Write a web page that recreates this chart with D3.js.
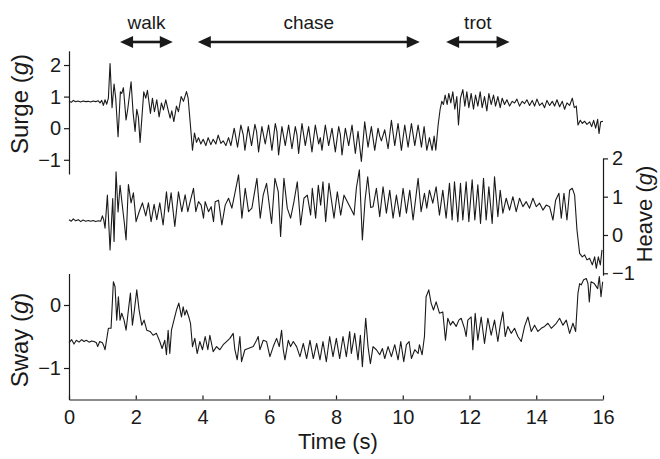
<!DOCTYPE html>
<html>
<head>
<meta charset="utf-8">
<script src="https://cdn.jsdelivr.net/npm/d3@7"></script>
<style>
  body { margin: 0; background: #fff; }
  text { font-family: "Liberation Sans", Arial, sans-serif; fill: #1a1a1a; }
</style>
</head>
<body>
<svg id="chart" width="660" height="459"></svg>
<script>
// time (s), acceleration (g)
var surge = [
  [0,0.85],[0.07,0.82],[0.13,0.88],[0.2,0.84],[0.27,0.86],[0.35,0.83],[0.42,0.86],[0.5,0.84],[0.58,0.85],[0.65,0.83],
  [0.72,0.86],[0.8,0.84],[0.87,0.87],[0.93,0.8],[0.98,0.88],[1.03,0.72],[1.08,0.9],[1.13,0.76],[1.18,0.95],
  [1.23,2.05],[1.29,0.65],[1.35,1.4],[1.4,0.95],[1.47,-0.27],[1.54,1.15],[1.58,1.1],[1.63,1.28],[1.71,0.26],[1.76,0.6],
  [1.86,1.47],[1.92,0.5],[1.98,-0.1],[2.03,0.6],[2.08,0.35],[2.13,-0.45],[2.24,1.15],[2.3,0.95],[2.35,1.2],[2.44,0.47],
  [2.5,0.95],[2.56,0.52],[2.63,0.9],[2.7,0.36],[2.77,0.8],[2.83,0.58],[2.9,0.9],[2.96,0.62],[3.03,0.32],[3.08,0.55],
  [3.14,0.21],[3.22,0.7],[3.28,0.52],[3.36,1.0],[3.43,0.85],[3.52,1.16],[3.57,0.95],[3.63,0.2],[3.7,-0.7],
  [3.76,-0.15],[3.82,-0.45],[3.88,-0.3],[3.95,-0.5],[4.02,-0.35],[4.1,-0.55],[4.17,-0.3],[4.25,-0.52],[4.32,-0.35],
  [4.4,-0.5],[4.47,-0.22],[4.55,-0.48],[4.62,-0.4],[4.7,-0.55],[4.78,-0.3],[4.85,-0.55],[4.95,0.0],[5.05,-0.6],
  [5.15,0.1],[5.22,-0.2],[5.27,-0.7],[5.37,0.05],[5.47,-0.55],[5.57,0.12],[5.62,-0.1],[5.68,-0.75],[5.78,0.05],
  [5.88,-0.5],[5.98,0.1],[6.08,-0.7],[6.18,0.15],[6.23,-0.1],[6.28,-0.85],[6.38,0.05],[6.48,-0.55],[6.58,0.1],
  [6.68,-0.65],[6.78,0.05],[6.83,-0.2],[6.88,-0.8],[6.98,0.15],[7.08,-0.55],[7.18,0.05],[7.28,-0.75],[7.38,0.1],
  [7.48,-0.5],[7.53,-0.3],[7.58,-0.7],[7.68,0.1],[7.78,-0.55],[7.88,0.0],[7.98,-0.75],[8.08,0.05],[8.13,-0.2],
  [8.18,-0.85],[8.28,0.0],[8.38,-0.55],[8.48,0.1],[8.58,-0.8],[8.66,-0.1],[8.76,-1.05],[8.86,0.2],[8.96,-0.6],
  [9.06,0.05],[9.16,-0.7],[9.26,0.0],[9.31,-0.25],[9.36,-0.4],[9.46,-0.05],[9.56,-0.65],[9.66,0.25],[9.76,-0.55],
  [9.86,0.15],[9.96,-0.7],[10.06,0.1],[10.16,-0.6],[10.26,0.15],[10.36,-0.55],[10.46,0.1],[10.56,-0.6],[10.64,0.05],
  [10.72,-0.7],[10.8,-0.3],[10.88,-0.7],[10.94,-0.25],[10.99,-0.7],[11.06,0.1],[11.12,0.6],[11.17,0.85],[11.22,0.75],[11.27,1.05],
  [11.33,0.75],[11.38,1.1],[11.44,0.8],[11.5,1.15],[11.56,0.6],[11.62,1.0],[11.67,0.1],[11.73,0.95],[11.8,1.22],
  [11.86,0.7],[11.92,1.15],[11.98,0.65],[12.05,1.1],[12.12,0.6],[12.18,1.05],[12.25,0.7],[12.32,1.15],[12.38,0.65],
  [12.45,1.0],[12.52,0.55],[12.58,1.1],[12.65,0.75],[12.72,1.05],[12.78,0.7],[12.85,1.0],[12.92,0.65],[12.98,0.95],
  [13.05,0.75],[13.12,0.9],[13.2,0.7],[13.28,0.85],[13.35,0.8],[13.42,0.92],[13.5,0.7],[13.58,0.85],[13.65,0.78],
  [13.72,0.9],[13.8,0.72],[13.88,0.88],[13.95,0.7],[14.02,0.92],[14.1,0.72],[14.18,0.8],[14.25,0.65],[14.32,0.88],
  [14.4,0.72],[14.48,0.85],[14.55,0.7],[14.62,0.9],[14.7,0.68],[14.78,0.85],[14.85,0.6],[14.92,0.8],[15.0,0.72],
  [15.08,0.95],[15.14,0.65],[15.2,0.7],[15.25,0.1],[15.32,0.25],[15.38,0.15],[15.45,0.22],[15.52,0.12],[15.6,0.2],
  [15.66,0.05],[15.72,0.25],[15.78,0.0],[15.84,0.28],[15.88,-0.17],[15.93,0.2],[16.0,0.22]
];

var heave = [
  [0,0.4],[0.07,0.36],[0.13,0.42],[0.2,0.37],[0.28,0.4],[0.35,0.35],[0.42,0.39],[0.5,0.36],[0.58,0.38],[0.65,0.36],
  [0.72,0.38],[0.8,0.35],[0.88,0.37],[0.95,0.36],[1.0,0.5],[1.04,0.4],
  [1.08,0.18],[1.15,1.04],[1.23,-0.39],[1.31,0.95],[1.35,-0.17],[1.41,1.65],[1.47,0.6],[1.53,1.3],[1.6,0.75],
  [1.66,0.3],[1.71,-0.13],[1.78,1.32],[1.86,0.84],[1.93,1.1],[2.01,0.35],[2.1,0.6],[2.2,0.84],[2.3,0.5],[2.38,0.84],
  [2.46,0.35],[2.55,0.8],[2.63,0.4],[2.72,0.84],[2.82,0.26],[2.92,1.13],[2.98,0.6],[3.06,1.1],[3.17,0.22],[3.28,1.13],
  [3.38,0.61],[3.48,1.05],[3.56,0.61],[3.63,0.87],[3.73,1.22],[3.8,0.61],[3.88,0.87],[3.96,0.78],[4.03,0.44],
  [4.08,0.87],[4.18,0.61],[4.26,0.74],[4.33,0.35],[4.38,0.87],[4.48,0.91],[4.58,0.26],[4.68,0.78],[4.78,0.96],
  [4.88,0.7],[4.98,1.13],[5.08,1.57],[5.18,0.44],[5.28,1.22],[5.38,0.61],[5.48,0.7],[5.63,1.48],[5.73,0.44],
  [5.82,1.05],[5.92,1.35],[6.07,0.3],[6.17,1.48],[6.27,1.13],[6.34,-0.04],[6.44,1.48],[6.54,0.7],[6.64,0.44],
  [6.74,0.87],[6.84,1.39],[6.94,0.26],[7.04,0.96],[7.14,1.04],[7.24,0.52],[7.29,1.22],[7.39,0.44],[7.47,1.3],
  [7.54,0.78],[7.61,1.39],[7.69,0.35],[7.79,1.35],[7.87,0.87],[7.94,0.44],[8.04,1.13],[8.14,0.52],[8.24,1.04],
  [8.34,0.87],[8.44,0.7],[8.54,0.52],[8.61,1.22],[8.7,1.7],[8.79,-0.13],[8.87,0.9],[8.95,1.52],[9.04,0.72],
  [9.11,0.74],[9.21,1.22],[9.31,0.48],[9.41,1.26],[9.51,0.57],[9.61,1.17],[9.71,0.44],[9.81,1.04],[9.91,0.48],
  [10.01,1.22],[10.11,0.57],[10.21,1.17],[10.31,0.39],[10.46,1.48],[10.55,0.61],[10.65,1.09],[10.72,0.7],[10.8,1.17],
  [10.9,0.83],[11.0,1.26],[11.1,0.52],[11.2,1.17],[11.3,0.44],[11.4,1.35],[11.48,0.39],[11.55,1.39],[11.65,0.35],
  [11.73,1.35],[11.8,0.39],[11.9,1.39],[11.98,0.35],[12.08,1.44],[12.16,0.39],[12.25,1.31],[12.33,0.3],[12.42,1.48],
  [12.5,0.39],[12.58,1.26],[12.68,0.3],[12.75,1.52],[12.85,0.48],[12.92,1.17],[13.0,0.57],[13.1,0.96],[13.2,0.65],
  [13.3,1.0],[13.4,0.61],[13.5,0.96],[13.6,0.74],[13.7,0.87],[13.8,0.7],[13.9,0.96],[14.0,0.74],[14.1,0.83],
  [14.2,0.65],[14.3,0.78],[14.4,0.74],[14.5,0.39],[14.58,0.91],[14.68,1.09],[14.75,0.44],[14.83,1.09],[14.92,0.39],
  [15.0,1.17],[15.08,1.22],[15.15,1.04],[15.22,0.13],[15.3,-0.48],[15.38,-0.57],[15.45,-0.52],[15.52,-0.65],
  [15.6,-0.61],[15.68,-0.78],[15.75,-0.57],[15.8,-0.87],[15.86,-0.57],[15.92,-0.78],[15.97,-0.39]
];

var sway = [
  [0,-0.6],[0.08,-0.55],[0.15,-0.62],[0.22,-0.56],[0.3,-0.59],[0.38,-0.55],[0.45,-0.58],[0.52,-0.56],[0.6,-0.59],
  [0.68,-0.57],[0.75,-0.58],[0.82,-0.6],[0.86,-0.66],[0.92,-0.58],[1.0,-0.6],[1.05,-0.66],[1.08,-0.71],
  [1.18,-0.37],[1.26,-0.37],[1.33,0.37],[1.38,0.29],[1.43,-0.24],[1.48,0.13],[1.53,-0.24],[1.58,-0.13],[1.65,-0.24],
  [1.71,-0.4],[1.78,-0.08],[1.84,0.19],[1.9,-0.32],[1.96,-0.08],[2.03,0.24],[2.1,-0.08],[2.18,-0.32],[2.25,-0.24],
  [2.33,-0.4],[2.43,-0.42],[2.52,-0.48],[2.62,-0.45],[2.72,-0.58],[2.79,-0.69],[2.87,-0.56],[2.92,-0.79],[2.97,-0.4],
  [3.02,-0.77],[3.07,-0.4],[3.12,-0.29],[3.22,-0.08],[3.29,0.03],[3.37,-0.19],[3.42,-0.03],[3.47,-0.16],[3.52,-0.08],
  [3.59,-0.19],[3.64,-0.29],[3.7,-0.66],[3.77,-0.53],[3.84,-0.77],[3.92,-0.58],[4.0,-0.71],[4.08,-0.5],[4.16,-0.71],
  [4.22,-0.48],[4.32,-0.74],[4.42,-0.66],[4.52,-0.71],[4.62,-0.63],[4.72,-0.58],[4.82,-0.53],[4.92,-0.45],[4.97,-0.71],
  [5.04,-0.87],[5.12,-0.5],[5.17,-0.9],[5.27,-0.71],[5.37,-0.69],[5.52,-0.66],[5.62,-0.56],[5.67,-0.5],[5.72,-0.71],
  [5.82,-0.56],[5.92,-0.58],[6.02,-0.82],[6.12,-0.66],[6.22,-0.53],[6.3,-0.66],[6.37,-0.4],[6.42,-0.71],[6.47,-0.87],
  [6.57,-0.56],[6.64,-0.66],[6.72,-0.58],[6.82,-0.66],[6.92,-0.82],[7.02,-0.61],[7.12,-0.85],[7.22,-0.56],[7.32,-0.85],
  [7.42,-0.61],[7.52,-0.87],[7.61,-0.58],[7.71,-0.9],[7.81,-0.5],[7.91,-0.82],[8.01,-0.53],[8.11,-0.85],[8.21,-0.5],
  [8.31,-0.82],[8.41,-0.42],[8.46,-0.77],[8.56,-0.45],[8.66,-0.87],[8.73,-0.48],[8.79,-0.98],[8.89,-0.21],[8.96,-0.66],
  [9.03,-0.93],[9.11,-0.66],[9.21,-0.71],[9.31,-0.79],[9.39,-0.69],[9.46,-0.85],[9.56,-0.66],[9.66,-0.82],[9.76,-0.63],
  [9.86,-0.87],[9.94,-0.58],[10.03,-0.9],[10.11,-0.63],[10.19,-0.58],[10.26,-0.85],[10.36,-0.71],[10.46,-0.77],
  [10.5,-0.63],[10.58,-0.79],[10.65,-0.5],[10.7,0.13],[10.78,0.24],[10.85,0.03],[10.92,-0.08],[11.0,0.05],[11.1,-0.13],
  [11.2,-0.11],[11.28,-0.56],[11.35,-0.21],[11.43,-0.32],[11.5,-0.26],[11.6,-0.34],[11.68,-0.24],[11.75,-0.21],
  [11.85,-0.37],[11.9,-0.5],[11.95,-0.24],[12.05,-0.19],[12.1,-0.71],[12.17,-0.13],[12.25,-0.56],[12.35,-0.19],
  [12.45,-0.61],[12.55,-0.21],[12.65,-0.48],[12.75,-0.24],[12.85,-0.58],[12.92,-0.32],[13.0,-0.11],[13.07,-0.5],
  [13.15,-0.34],[13.25,-0.45],[13.35,-0.37],[13.45,-0.5],[13.55,-0.58],[13.65,-0.34],[13.75,-0.19],[13.85,-0.42],
  [13.95,-0.32],[14.05,-0.42],[14.15,-0.37],[14.25,-0.34],[14.35,-0.29],[14.45,-0.37],[14.6,-0.29],[14.7,-0.21],
  [14.8,-0.32],[14.9,-0.24],[15.0,-0.45],[15.1,-0.29],[15.18,-0.42],[15.25,0.19],[15.3,0.34],[15.35,0.32],[15.42,0.4],
  [15.5,0.42],[15.55,0.34],[15.59,0.05],[15.64,0.37],[15.74,0.34],[15.84,0.26],[15.89,0.45],[15.94,0.13],[15.99,0.37]
];

var timeTicks = [0, 2, 4, 6, 8, 10, 12, 14, 16];
var surgeTicks = [-1, 0, 1, 2];
var heaveTicks = [-1, 0, 1, 2];
var swayTicks = [-1, 0];
var phases = [
  {name: "walk", from: 1.53, to: 3.11},
  {name: "chase", from: 3.86, to: 10.51},
  {name: "trot", from: 11.3, to: 13.2}
];

var svg = d3.select("#chart");
var fmt = d3.format("d");

var x = d3.scaleLinear().domain([0, 16]).range([69, 603]);
var ySurge = d3.scaleLinear().domain([-1.45, 2.45]).range([174, 50.8]);
var yHeave = d3.scaleLinear().domain([-1.05, 2]).range([275.2, 158.4]);
var ySway = d3.scaleLinear().domain([-1.5, 0.5]).range([399.5, 273.5]);

function trace(data, y) {
  svg.append("path")
    .datum(data)
    .attr("fill", "none")
    .attr("stroke", "#1a1a1a")
    .attr("stroke-width", 1.1)
    .attr("stroke-linejoin", "round")
    .attr("d", d3.line().x(d => x(d[0])).y(d => y(d[1])));
}
trace(surge, ySurge);
trace(heave, yHeave);
trace(sway, ySway);

function styleAxis(g, size) {
  g.attr("font-size", size)
   .attr("font-family", "'Liberation Sans', Arial, sans-serif");
  g.selectAll("path, line").attr("stroke", "#1a1a1a").attr("stroke-width", 1.2);
  g.selectAll("text").attr("fill", "#1a1a1a");
}

svg.append("g").attr("transform", "translate(69,0)")
  .call(d3.axisLeft(ySurge).tickValues(surgeTicks).tickFormat(fmt).tickSize(5).tickSizeOuter(0).tickPadding(3))
  .call(styleAxis, 20);

svg.append("g").attr("transform", "translate(603,0)")
  .call(d3.axisRight(yHeave).tickValues(heaveTicks).tickFormat(fmt).tickSize(5).tickSizeOuter(0).tickPadding(4))
  .call(styleAxis, 20);

svg.append("g").attr("transform", "translate(69,0)")
  .call(d3.axisLeft(ySway).tickValues(swayTicks).tickFormat(fmt).tickSize(5).tickSizeOuter(0).tickPadding(3))
  .call(styleAxis, 20);

svg.append("g").attr("transform", "translate(0,399.5)")
  .call(d3.axisBottom(x).tickValues(timeTicks).tickFormat(fmt).tickSizeInner(-4).tickSizeOuter(0).tickPadding(10))
  .call(styleAxis, 20);

// axis titles
function yTitle(name, cx, cy, size) {
  var t = svg.append("text")
    .attr("transform", "translate(" + cx + "," + cy + ") rotate(-90)")
    .attr("text-anchor", "middle")
    .attr("font-size", size);
  t.append("tspan").text(name + " (");
  t.append("tspan").attr("font-style", "italic").text("g");
  t.append("tspan").text(")");
}
yTitle("Surge", 28, 104, 24);
yTitle("Heave", 652, 214, 22);
yTitle("Sway", 28, 340, 24);

svg.append("text")
  .attr("x", 338).attr("y", 449)
  .attr("text-anchor", "middle")
  .attr("font-size", 22)
  .text("Time (s)");

// behaviour arrows
var arrowY = 42, head = 13, half = 6;
phases.forEach(function(p) {
  var x1 = x(p.from), x2 = x(p.to);
  svg.append("line")
    .attr("x1", x1 + head - 2).attr("x2", x2 - head + 2)
    .attr("y1", arrowY).attr("y2", arrowY)
    .attr("stroke", "#1a1a1a").attr("stroke-width", 2.6);
  svg.append("path")
    .attr("d", "M" + x1 + "," + arrowY + "L" + (x1 + head) + "," + (arrowY - half) + "L" + (x1 + head) + "," + (arrowY + half) + "Z")
    .attr("fill", "#1a1a1a");
  svg.append("path")
    .attr("d", "M" + x2 + "," + arrowY + "L" + (x2 - head) + "," + (arrowY - half) + "L" + (x2 - head) + "," + (arrowY + half) + "Z")
    .attr("fill", "#1a1a1a");
  svg.append("text")
    .attr("x", (x1 + x2) / 2).attr("y", 29)
    .attr("text-anchor", "middle")
    .attr("font-size", 19)
    .text(p.name);
});
</script>
</body>
</html>
